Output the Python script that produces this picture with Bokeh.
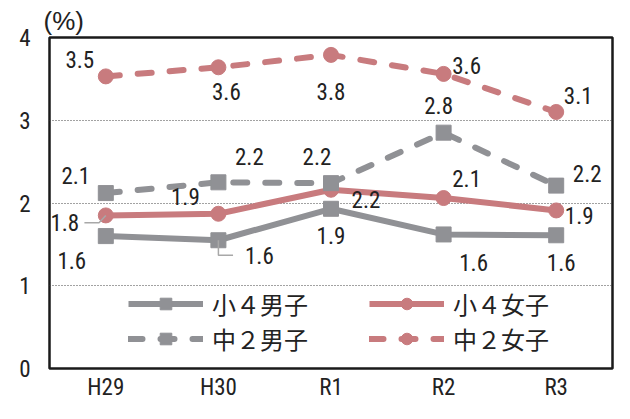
from bokeh.plotting import figure
from bokeh.models import (ColumnDataSource, FactorRange, Range1d, FixedTicker,
                          Legend, LegendItem)
from bokeh.core.properties import value
from bokeh.embed import file_html
from bokeh.resources import INLINE

# ---- data ----
years = ["H29", "H30", "R1", "R2", "R3"]
boys4 = [1.60, 1.55, 1.93, 1.62, 1.61]      # 小４男子
girls4 = [1.85, 1.87, 2.16, 2.06, 1.91]     # 小４女子
boys8 = [2.12, 2.25, 2.24, 2.85, 2.21]      # 中２男子
girls8 = [3.53, 3.64, 3.79, 3.56, 3.10]     # 中２女子
boys4_lbl = ["1.6", "1.6", "1.9", "1.6", "1.6"]
girls4_lbl = ["1.8", "1.9", "2.2", "2.1", "1.9"]
boys8_lbl = ["2.1", "2.2", "2.2", "2.8", "2.2"]
girls8_lbl = ["3.5", "3.6", "3.8", "3.6", "3.1"]
y_ticks = [0, 1, 2, 3, 4]
names = ["小４男子", "小４女子", "中２男子", "中２女子"]

# label offsets (screen px, dy positive = downwards)
boys4_dx = [-34, 41, 0, 30, 5];   boys4_dy = [24, 15, 27, 28, 27]
girls4_dx = [-41, -33, 35, 23, 23]; girls4_dy = [7, -17, 10, -20, 5]
boys8_dx = [-30, 31, -14, -5, 31]; boys8_dy = [-18, -26, -27, -27, -12]
girls8_dx = [-26, 8, 0, 23, 22];  girls8_dy = [-17, 24, 37, -8, -16]

GRAY = "#909195"
PINK = "#c87b7e"
NUM_FONT = "Liberation Sans Narrow, Roboto Condensed, Liberation Sans, sans-serif"
CJK_FONT = "Noto Sans CJK JP"

p = figure(width=614, height=403, x_range=FactorRange(*years, range_padding=0),
           y_range=Range1d(0, 4), output_backend="svg", toolbar_location=None,
           min_border_left=49, min_border_right=2, min_border_top=37,
           min_border_bottom=31)
p.background_fill_color = "white"
p.border_fill_color = "white"
p.outline_line_color = "#1a1a1a"
p.outline_line_width = 2.5

p.title.text = "(%)"
p.title.align = "left"
p.title.offset = -6
p.title.standoff = 3
p.title.text_font = "Liberation Sans"
p.title.text_font_size = "26px"
p.title.text_font_style = "normal"
p.title.text_color = "#222222"

p.xgrid.grid_line_color = None
p.ygrid.ticker = FixedTicker(ticks=y_ticks)
p.ygrid.grid_line_color = "#444444"
p.ygrid.grid_line_width = 1
p.ygrid.grid_line_dash = "1 2"

p.yaxis.ticker = FixedTicker(ticks=y_ticks)
for ax in (p.xaxis[0], p.yaxis[0]):
    ax.axis_line_color = None
    ax.major_tick_line_color = None
    ax.minor_tick_line_color = None
    ax.major_tick_out = 0
    ax.major_tick_in = 0
    ax.minor_tick_out = 0
    ax.major_label_text_font = NUM_FONT
    ax.major_label_text_font_size = "23px"
    ax.major_label_text_color = "#222222"
p.yaxis.major_label_standoff = 19
p.xaxis.major_label_standoff = 5

series = [
    (boys4, boys4_lbl, boys4_dx, boys4_dy, GRAY, "solid", "square"),
    (girls4, girls4_lbl, girls4_dx, girls4_dy, PINK, "solid", "circle"),
    (boys8, boys8_lbl, boys8_dx, boys8_dy, GRAY, "14 18", "square"),
    (girls8, girls8_lbl, girls8_dx, girls8_dy, PINK, "14 18", "circle"),
]

items = []
for (vals, lbls, dx, dy, col, dash, mk), name in zip(series, names):
    src = ColumnDataSource(dict(x=years, y=vals))
    ln = p.line("x", "y", source=src, line_color=col, line_width=6,
                line_dash=dash, line_cap="round" if dash != "solid" else "butt")
    sc = p.scatter("x", "y", source=src, marker=mk, size=15,
                   fill_color=col, line_color=col)
    items.append(LegendItem(label=name, renderers=[ln, sc]))

# leader lines
lead1 = ColumnDataSource(dict(x=[("H29", -0.19), ("H29", -0.06), ("H29", 0.0)],
                              y=[girls4[0] - 0.09, girls4[0] - 0.09, girls4[0]]))
p.line("x", "y", source=lead1, line_color="#a8a8a8", line_width=1.5)
lead2 = ColumnDataSource(dict(x=[("H30", 0.0), ("H30", 0.0), ("H30", 0.13)],
                              y=[boys4[1], boys4[1] - 0.18, boys4[1] - 0.18]))
p.line("x", "y", source=lead2, line_color="#a8a8a8", line_width=1.5)

for (vals, lbls, dx, dy, col, dash, mk) in series:
    src = ColumnDataSource(dict(x=years, y=vals, lbl=lbls, dx=dx, dy=dy))
    p.text("x", "y", text="lbl", source=src, x_offset="dx", y_offset="dy",
           text_align="center", text_baseline="middle",
           text_font=value(NUM_FONT), text_font_size="23px", text_color="#222222")

for its, xloc in ((items[0::2], 79), (items[1::2], 320)):
    lg = Legend(items=its, location=(xloc, 12), orientation="vertical",
                glyph_width=75, glyph_height=29, label_height=29, spacing=0,
                label_standoff=9, padding=0, margin=0,
                border_line_color=None, background_fill_alpha=0,
                label_text_font=CJK_FONT, label_text_font_size="24px",
                label_text_color="#222222")
    p.add_layout(lg)

open("out.html", "w").write(file_html(p, INLINE))
